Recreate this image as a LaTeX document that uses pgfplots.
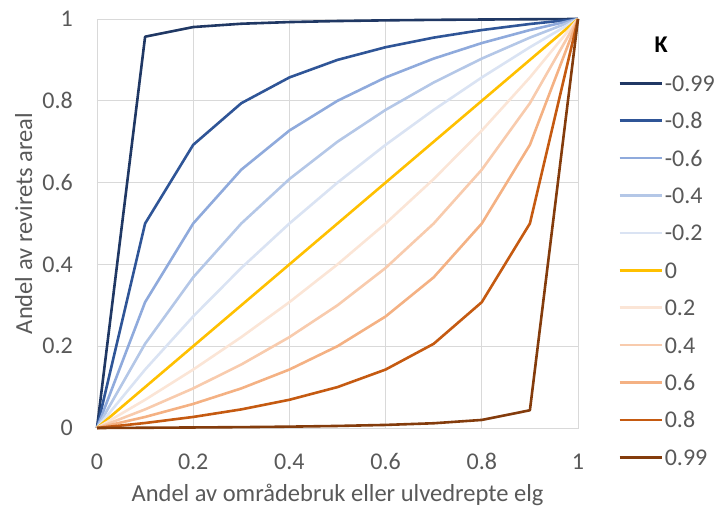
\documentclass[border=0pt]{standalone}
\usepackage{pgfplots}
\pgfplotsset{compat=1.18}
\usepackage{fontspec}
\setmainfont{Carlito}
\definecolor{txt}{HTML}{595959}
\definecolor{grd}{HTML}{D9D9D9}
\definecolor{cA}{HTML}{203864}
\definecolor{cB}{HTML}{2F5597}
\definecolor{cC}{HTML}{8FAADC}
\definecolor{cD}{HTML}{B4C7E7}
\definecolor{cE}{HTML}{DAE3F3}
\definecolor{cF}{HTML}{FFC000}
\definecolor{cG}{HTML}{FBE5D6}
\definecolor{cH}{HTML}{F8CBAD}
\definecolor{cI}{HTML}{F4B183}
\definecolor{cJ}{HTML}{C55A11}
\definecolor{cK}{HTML}{843C0C}
\begin{document}
\begin{tikzpicture}
\useasboundingbox (-97pt,-80pt) rectangle (618pt,428pt);
\begin{axis}[
  at={(0pt,0pt)}, anchor=origin,
  scale only axis, width=481pt, height=409pt,
  xmin=0, xmax=1, ymin=0, ymax=1,
  xtick={0,0.2,0.4,0.6,0.8,1}, ytick={0,0.2,0.4,0.6,0.8,1},
  grid=major, grid style={grd, line width=0.8pt},
  axis line style={grd, line width=0.8pt},
  tick style={draw=none},
  /pgf/number format/assume math mode=true,
  ticklabel style={font=\fontsize{24}{28}\selectfont, text=txt, inner sep=0pt},
  xticklabel style={anchor=base, yshift=-41.5pt},
  yticklabel style={anchor=east, xshift=-24pt},
  xlabel={Andel av områdebruk eller ulvedrepte elg},
  ylabel={Andel av revirets areal},
  label style={font=\fontsize{24.5}{28}\selectfont, text=txt, inner sep=0pt},
  xlabel style={at={(axis description cs:0.5,0)}, anchor=base, yshift=-73.5pt},
  ylabel style={at={(axis description cs:-0.135,0.5)}, anchor=base},
  every axis plot/.append style={line width=2.6pt, line join=round, no markers},
  legend image code/.code={\draw[#1] (0pt,0pt) -- (42pt,0pt);},
  legend style={at={(1.0832,0.863)}, anchor=north west, draw=none, fill=none,
    font=\fontsize{24}{28}\selectfont, text=txt, row sep=21.4pt,
    inner sep=0pt, nodes={inner xsep=2pt, inner ysep=0pt, text height=16pt, text depth=0pt}},
  legend cell align=left,
  clip=false,
]
\addplot[cA] coordinates {(0,0) (0.1,0.9567) (0.2,0.9803) (0.3,0.9884) (0.4,0.9925) (0.5,0.995) (0.6,0.9967) (0.7,0.9979) (0.8,0.9987) (0.9,0.9994) (1,1)};
\addlegendentry{-0.99}
\addplot[cB] coordinates {(0,0) (0.1,0.5) (0.2,0.6923) (0.3,0.7941) (0.4,0.8571) (0.5,0.9) (0.6,0.9310) (0.7,0.9545) (0.8,0.9730) (0.9,0.9878) (1,1)};
\addlegendentry{-0.8}
\addplot[cC] coordinates {(0,0) (0.1,0.3077) (0.2,0.5) (0.3,0.6316) (0.4,0.7273) (0.5,0.8) (0.6,0.8571) (0.7,0.9032) (0.8,0.9412) (0.9,0.9730) (1,1)};
\addlegendentry{-0.6}
\addplot[cD] coordinates {(0,0) (0.1,0.2059) (0.2,0.3684) (0.3,0.5) (0.4,0.6087) (0.5,0.7) (0.6,0.7778) (0.7,0.8448) (0.8,0.9032) (0.9,0.9545) (1,1)};
\addlegendentry{-0.4}
\addplot[cE] coordinates {(0,0) (0.1,0.1429) (0.2,0.2727) (0.3,0.3913) (0.4,0.5) (0.5,0.6) (0.6,0.6923) (0.7,0.7778) (0.8,0.8571) (0.9,0.9310) (1,1)};
\addlegendentry{-0.2}
\addplot[cF] coordinates {(0,0) (0.1,0.1) (0.2,0.2) (0.3,0.3) (0.4,0.4) (0.5,0.5) (0.6,0.6) (0.7,0.7) (0.8,0.8) (0.9,0.9) (1,1)};
\addlegendentry{0}
\addplot[cG] coordinates {(0,0) (0.1,0.0690) (0.2,0.1429) (0.3,0.2222) (0.4,0.3077) (0.5,0.4) (0.6,0.5) (0.7,0.6087) (0.8,0.7273) (0.9,0.8571) (1,1)};
\addlegendentry{0.2}
\addplot[cH] coordinates {(0,0) (0.1,0.0455) (0.2,0.0968) (0.3,0.1552) (0.4,0.2222) (0.5,0.3) (0.6,0.3913) (0.7,0.5) (0.8,0.6316) (0.9,0.7941) (1,1)};
\addlegendentry{0.4}
\addplot[cI] coordinates {(0,0) (0.1,0.0270) (0.2,0.0588) (0.3,0.0968) (0.4,0.1429) (0.5,0.2) (0.6,0.2727) (0.7,0.3684) (0.8,0.5) (0.9,0.6923) (1,1)};
\addlegendentry{0.6}
\addplot[cJ] coordinates {(0,0) (0.1,0.0122) (0.2,0.0270) (0.3,0.0455) (0.4,0.0690) (0.5,0.1) (0.6,0.1429) (0.7,0.2059) (0.8,0.3077) (0.9,0.5) (1,1)};
\addlegendentry{0.8}
\addplot[cK] coordinates {(0,0) (0.1,0.0006) (0.2,0.0013) (0.3,0.0021) (0.4,0.0033) (0.5,0.005) (0.6,0.0075) (0.7,0.0116) (0.8,0.0197) (0.9,0.0433) (1,1)};
\addlegendentry{0.99}
\node[font=\bfseries\fontsize{24}{28}\selectfont, text=black, anchor=center] at (axis description cs:1.173,0.938) {K};
\end{axis}
\end{tikzpicture}
\end{document}
